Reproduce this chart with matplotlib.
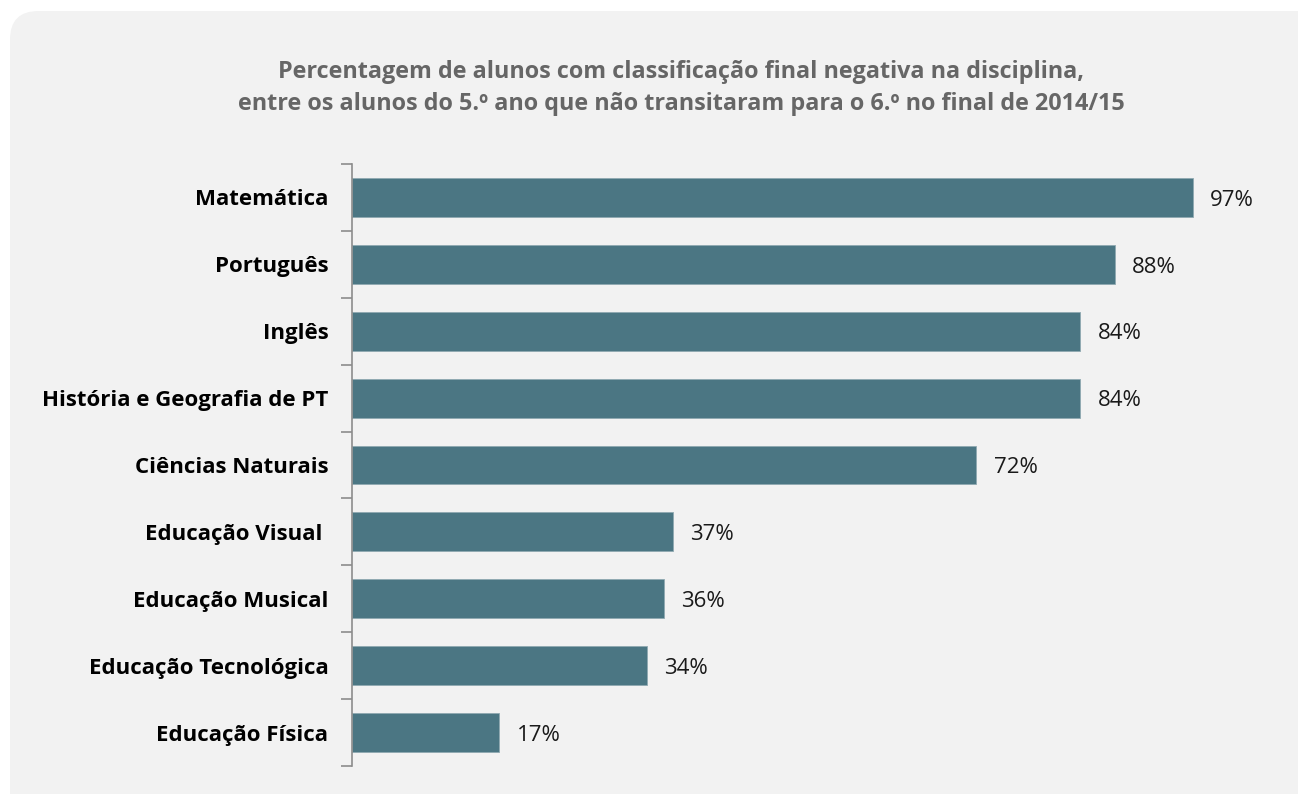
import matplotlib.pyplot as plt
from matplotlib.patches import FancyBboxPatch

categorias = ['Matemática', 'Português', 'Inglês', 'História e Geografia de PT',
              'Ciências Naturais', 'Educação Visual ', 'Educação Musical',
              'Educação Tecnológica', 'Educação Física']
valores = [97, 88, 84, 84, 72, 37, 36, 34, 17]

titulo = ('Percentagem de alunos com classificação final negativa na disciplina,\n'
          'entre os alunos do 5.º ano que não transitaram para o 6.º no final de 2014/15')

plt.rcParams['font.family'] = ['Open Sans', 'DejaVu Sans']

fig = plt.figure(figsize=(12.98, 7.94), dpi=100)
fig.patch.set_facecolor('white')

# fundo cinzento arredondado
bg = FancyBboxPatch((10 / 1298, -0.05), 1.05, 1 - 11 / 794 + 0.05,
                    boxstyle='round,pad=0,rounding_size=0.022',
                    transform=fig.transFigure, facecolor='#f2f2f2',
                    edgecolor='none', zorder=-10, mutation_aspect=1298 / 794)
fig.patches.append(bg)

ax = fig.add_axes([352 / 1298, 1 - 766 / 794, (1219 - 352) / 1298, (766 - 164) / 794])
ax.set_facecolor('none')

y = list(range(len(categorias)))
ax.barh(y, valores, height=0.58, color='#4b7683', edgecolor='#8fa9b1', linewidth=0.6)
for yi, v in zip(y, valores):
    ax.text(v + 2.0, yi + 0.04, f'{v}%', va='center', ha='left', fontsize=16, color='#1a1a1a')

ax.set_xlim(0, 100)
ax.set_ylim(len(categorias) - 0.5, -0.5)
ax.set_yticks(y)
ax.set_yticklabels(categorias, fontsize=16, fontweight='bold', color='black')
ax.set_yticks([i - 0.5 for i in range(len(categorias) + 1)], minor=True)
ax.tick_params(axis='y', which='major', length=0, pad=17)
ax.tick_params(axis='y', which='minor', length=8, width=1.2, color='#8c8c8c')
ax.set_xticks([])
for s in ['top', 'right', 'bottom']:
    ax.spines[s].set_visible(False)
ax.spines['left'].set_color('#8c8c8c')
ax.spines['left'].set_linewidth(1.2)

fig.text(0.525, 1 - 88 / 794, titulo, ha='center', va='center', fontsize=16.8,
         fontweight='bold', color='#666666', linespacing=1.5)

fig.savefig('out.png', dpi=100)
